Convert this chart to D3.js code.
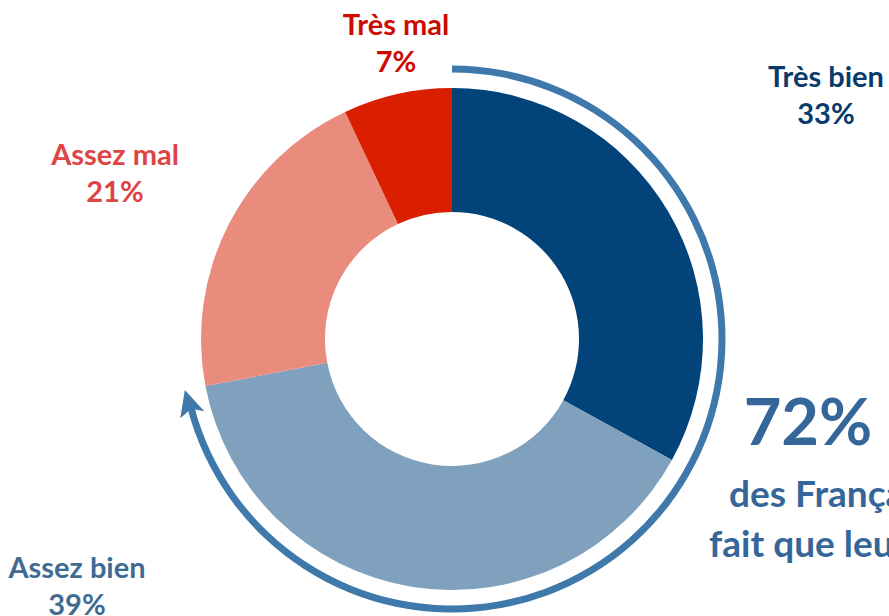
<!DOCTYPE html>
<html>
<head>
<meta charset="utf-8">
<script src="https://cdn.jsdelivr.net/npm/d3@7"></script>
<style>
	body { margin: 0; background: #fff; overflow: hidden; }
	svg { display: block; font-family: Lato, "Open Sans", sans-serif; font-weight: 700; }
</style>
</head>
<body>
<div class="donut-container"></div>
<script>
//---->DATA<-----//
const categories = ['Très bien', 'Assez bien', 'Assez mal', 'Très mal'],
	values = [33, 39, 21, 7],
	sliceColors = ['#02437A', '#7FA1BD', '#E98C7E', '#D91F00'],
	labelColors = ['#073B6C', '#3F6B93', '#DD4446', '#CC0A00'],
	highlight = 72,
	highlightLines = ['des Français', 'fait que leur'];

const outerW = 889,
	outerH = 616;

const cx = 452,
	cy = 339,
	rOuter = 251,
	rInner = 127,
	rRing = 270;

const container = d3.select('.donut-container');

const svg = container.append('svg')
	.attr('width', outerW)
	.attr('height', outerH);

const g = svg.append('g')
	.attr('transform', `translate(${cx}, ${cy})`);

// Donut slices
const pie = d3.pie().sort(null).value(d => d.value);
const arcs = pie(categories.map((c, i) => ({ key: c, value: values[i], i })));

const arc = d3.arc()
	.innerRadius(rInner)
	.outerRadius(rOuter);

g.selectAll('.slice')
	.data(arcs)
	.enter().append('path')
	.attr('class', 'slice')
	.attr('d', arc)
	.attr('fill', d => sliceColors[d.data.i]);

// Ring arrow covering the "bien" share
const angle = d3.scaleLinear().domain([0, 100]).range([0, 2 * Math.PI]);
const tipA = angle(highlight),
	baseA = tipA - 0.085;

g.append('path')
	.attr('d', d3.arc()
		.innerRadius(rRing - 3.5)
		.outerRadius(rRing + 3.5)
		.startAngle(0)
		.endAngle(baseA + 0.02)())
	.attr('fill', '#3F78AA');

const pt = (a, r) => [r * Math.sin(a), -r * Math.cos(a)];
const tip = pt(tipA, rRing + 2),
	b1 = pt(baseA - 0.01, rRing + 13),
	b2 = pt(baseA - 0.01, rRing - 12),
	notch = pt(baseA + 0.012, rRing);

g.append('path')
	.attr('d', `M${tip}L${b1}L${notch}L${b2}Z`)
	.attr('fill', '#3F78AA');

// Labels
const labelPos = [
	[826, 87],
	[77, 578],
	[115, 165],
	[396, 35]
];

const labels = svg.selectAll('.label')
	.data(arcs)
	.enter().append('text')
	.attr('class', 'label')
	.attr('text-anchor', 'middle')
	.attr('font-size', 29)
	.attr('fill', d => labelColors[d.data.i]);

labels.append('tspan')
	.attr('x', d => labelPos[d.data.i][0])
	.attr('y', d => labelPos[d.data.i][1])
	.text(d => d.data.key);

labels.append('tspan')
	.attr('x', d => labelPos[d.data.i][0])
	.attr('y', d => labelPos[d.data.i][1] + 37)
	.text(d => d.data.value + '%');

// Highlight text
svg.append('text')
	.attr('x', 808)
	.attr('y', 445)
	.attr('text-anchor', 'middle')
	.attr('font-size', 65)
	.attr('fill', '#356699')
	.text(highlight + '%');

svg.selectAll('.hl-line')
	.data(highlightLines)
	.enter().append('text')
	.attr('class', 'hl-line')
	.attr('x', (d, i) => i ? 709 : 729)
	.attr('y', (d, i) => 507 + i * 50)
	.attr('font-size', 37)
	.attr('fill', '#356699')
	.text(d => d);
</script>
</body>
</html>
